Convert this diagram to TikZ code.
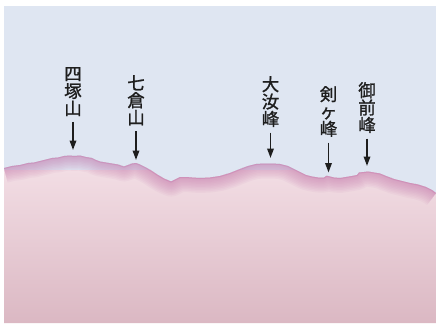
\documentclass[tikz,border=0pt]{standalone}
\usepackage{fontspec}
\newfontfamily\jpfont[FakeBold=1.2]{Noto Sans CJK JP}
\usetikzlibrary{arrows.meta}
\definecolor{sky}{HTML}{DFE6F2}
\definecolor{rim}{HTML}{C474AA}
\definecolor{groundtop}{HTML}{F2DDE4}
\definecolor{groundmid}{HTML}{EACFD7}
\definecolor{groundlow}{HTML}{DBB8C3}
\definecolor{ink}{HTML}{1E1E1E}
\tikzset{
  peaklabel/.style={font=\jpfont\fontsize{17.5}{17.4}\selectfont, align=center,
    inner sep=0pt, text=ink, anchor=north},
  pointer/.style={draw=ink, line width=1.7bp, -{Triangle[length=9.5bp,width=6.5bp]},
    shorten <=5.5bp},
}
% skyline of the range, left to right
\def\ridge{(4,168) -- (12,166) -- (20,165) -- (28,163) -- (34,162.5) -- (40,161) -- (46,159.5)
  -- (52,158) -- (58,157.5) -- (64,156) -- (70,155.5) -- (74,156) -- (80,155.5) -- (86,157)
  -- (92,158) -- (96,160) -- (100,161.5) -- (106,162.5) -- (112,163.5) -- (118,164.5)
  -- (124,166.5) -- (128,165) -- (132,163.5) -- (136,163) -- (140,164.5) -- (146,167.5)
  -- (152,171) -- (158,175) -- (164,178.5) -- (171,181.5) -- (175,179.5) -- (180,177)
  -- (186,177) -- (192,177.5) -- (200,178) -- (210,177.5) -- (220,176) -- (230,173)
  -- (240,169) -- (248,166) -- (256,164) -- (264,163.5) -- (272,163.5) -- (280,164)
  -- (288,166) -- (294,169) -- (300,172) -- (306,175) -- (312,176.5) -- (318,177.5)
  -- (324,177.5) -- (326.5,175.8) -- (330,176.5) -- (334,177.5) -- (340,178) -- (346,177)
  -- (352,176) -- (357,175) -- (359,172.5) -- (364,172) -- (368,171.5) -- (374,172.5)
  -- (380,173.5) -- (386,176) -- (394,179) -- (402,181) -- (410,183) -- (418,184.5)
  -- (426,187) -- (432,190) -- (436,193)}
\begin{document}
\begin{tikzpicture}[x=1bp,y=-1bp]
\useasboundingbox (0,0) rectangle (436,323);
% sky
\fill[sky] (4,6) rectangle (436,323);
% ground with a soft rim along the skyline
\begin{scope}
  \clip \ridge -- (436,323) -- (4,323) -- cycle;
  \shade[top color=groundtop, middle color=groundmid, bottom color=groundlow]
    (4,170) rectangle (436,323);
  \foreach \w in {30,27,...,3}
    \draw[rim, line width=\w bp, opacity=0.07, line join=round] \ridge;
  \draw[rim, line width=2bp, opacity=0.35, line join=round] \ridge;
\end{scope}
% peak names
\node[peaklabel] (yotsuzuka) at (73,67) {四\\塚\\山};
\node[peaklabel] (nanakura) at (136,75) {七\\倉\\山};
\node[peaklabel] (onanji) at (270.5,76) {大\\汝\\峰};
\node[peaklabel] (kengamine) at (328.5,86) {剣\\ヶ\\峰};
\node[peaklabel] (gozen) at (367,82) {御\\前\\峰};
% arrow tips just above the skyline
\coordinate (yotsuzukaTip) at (73,150);
\coordinate (nanakuraTip) at (136,160);
\coordinate (onanjiTip) at (270.5,158);
\coordinate (kengamineTip) at (328.5,172.5);
\coordinate (gozenTip) at (367,166);
\foreach \p in {yotsuzuka,nanakura,onanji,kengamine,gozen}
  \draw[pointer] (\p.south) -- (\p Tip);
\end{tikzpicture}
\end{document}
